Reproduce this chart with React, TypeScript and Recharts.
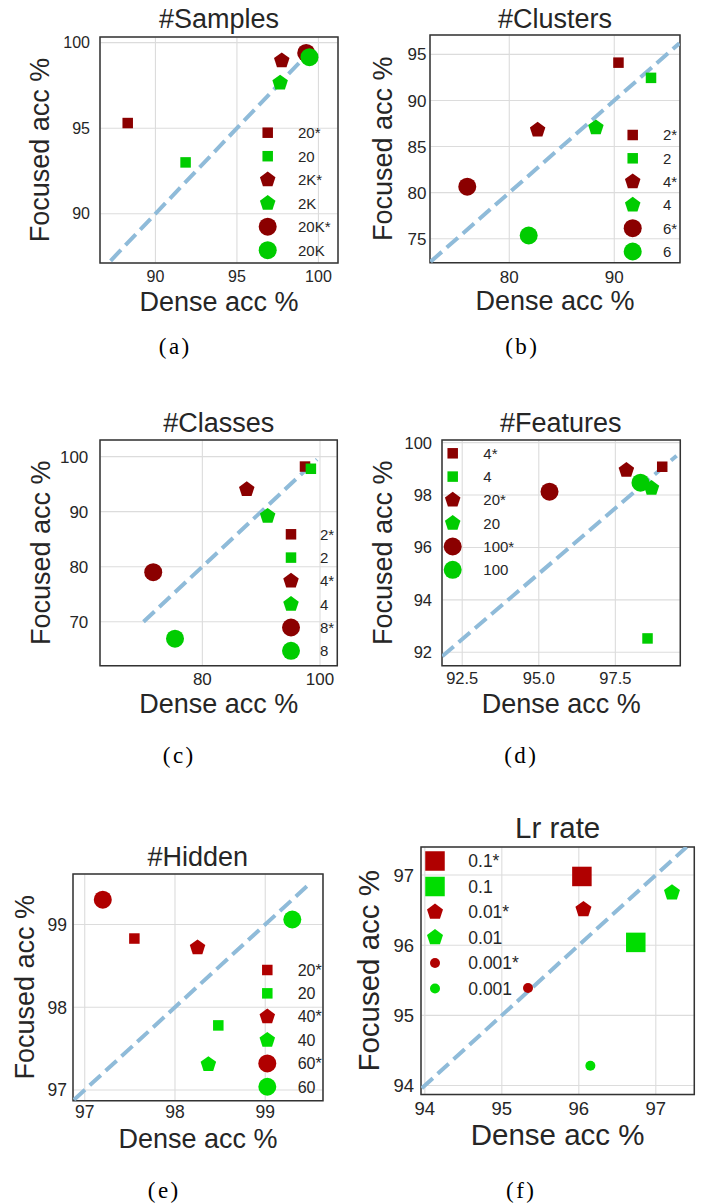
import { ScatterChart, Scatter, XAxis, YAxis, CartesianGrid, ReferenceLine, ReferenceArea } from "recharts"

const FONT = "'Liberation Sans', Arial, Helvetica, sans-serif"
const SERIF = "'Liberation Serif', 'DejaVu Serif', serif"
const INK = "#262626"

// (a) #Samples
const samplesLabels = ["20*", "20", "2K*", "2K", "20K*", "20K"]
const samplesDense = [88.3, 91.85, 97.75, 97.65, 99.25, 99.45]
const samplesFocused = [95.3, 93.0, 98.95, 97.65, 99.4, 99.15]
const samplesXTicks = [90, 95, 100]
const samplesYTicks = [90, 95, 100]
const samplesDiag = [87.25, 99.55]

// (b) #Clusters
const clustersLabels = ["2*", "2", "4*", "4", "6*", "6"]
const clustersDense = [90.4, 93.5, 82.7, 88.25, 76.0, 81.85]
const clustersFocused = [94.1, 92.45, 86.8, 87.05, 80.65, 75.35]
const clustersXTicks = [80, 90]
const clustersYTicks = [75, 80, 85, 90, 95]
const clustersDiag = [72.5, 96.2]

// (c) #Classes
const classesLabels = ["2*", "2", "4*", "4", "8*", "8"]
const classesDense = [97.45, 98.45, 87.55, 91.1, 71.65, 75.35]
const classesFocused = [98.2, 97.8, 94.05, 89.2, 79.0, 66.9]
const classesXTicks = [80, 100]
const classesYTicks = [70, 80, 90, 100]
const classesDiag = [70, 99.5]

// (d) #Features
const featuresLabels = ["4*", "4", "20*", "20", "100*", "100"]
const featuresDense = [99.03, 98.55, 97.86, 98.68, 95.35, 98.32]
const featuresFocused = [99.08, 92.53, 98.95, 98.26, 98.13, 98.47]
const featuresXTicks = [92.5, 95, 97.5]
const featuresYTicks = [92, 94, 96, 98, 100]
const featuresDiag = [91.85, 99.5]

// (e) #Hidden
const hiddenLabels = ["20*", "20", "40*", "40", "60*", "60"]
const hiddenDense = [97.55, 98.48, 98.25, 98.37, 97.2, 99.3]
const hiddenFocused = [98.83, 97.78, 98.72, 97.31, 99.3, 99.06]
const hiddenXTicks = [97, 98, 99]
const hiddenYTicks = [97, 98, 99]
const hiddenDiag = [96.88, 99.5]

// (f) Lr rate
const lrLabels = ["0.1*", "0.1", "0.01*", "0.01", "0.001*", "0.001"]
const lrDense = [96.04, 96.74, 96.06, 97.21, 95.34, 96.15]
const lrFocused = [96.98, 96.04, 96.51, 96.75, 95.39, 94.28]
const lrXTicks = [94, 95, 96, 97]
const lrYTicks = [94, 95, 96, 97]
const lrDiag = [93.96, 97.4]

type Kind = "square" | "pentagon" | "circle"

const STD_KINDS: Kind[] = ["square", "square", "pentagon", "pentagon", "circle", "circle"]

function Marker({ cx, cy, kind, size, color }: { cx: number; cy: number; kind: Kind; size: number; color: string }) {
  if (kind === "square") {
    return <rect x={cx - size / 2} y={cy - size / 2} width={size} height={size} fill={color} />
  }
  if (kind === "circle") {
    return <circle cx={cx} cy={cy} r={size / 2} fill={color} />
  }
  const r = size / 1.902
  const pts = [0, 1, 2, 3, 4]
    .map((k) => {
      const a = ((-90 + k * 72) * Math.PI) / 180
      return `${cx + r * Math.cos(a)},${cy + r * Math.sin(a)}`
    })
    .join(" ")
  return <polygon points={pts} fill={color} />
}

interface PanelCfg {
  title: string
  caption: string
  captionPos: [number, number]
  titleBaseline: number
  frame: [number, number, number, number]
  labels: string[]
  dense: number[]
  focused: number[]
  xTicks: number[]
  yTicks: number[]
  diag: number[]
  xDomain: [number, number]
  yDomain: [number, number]
  xFmt?: (v: number) => string
  tickFont: number
  labelFont: number
  xGap: number
  yGap: number
  yLabelX: number
  xLabelGap: number
  sizes: number[]
  red: string
  green: string
  legend: { markerX: number; textX: number; top: number; step: number; font: number }
}

const sizesStd = [10.5, 10.5, 15.5, 15.5, 18, 18]

const panels: PanelCfg[] = [
  {
    title: "#Samples", caption: "(a)", captionPos: [174, 354], titleBaseline: 28.3,
    frame: [100, 37, 338, 263],
    labels: samplesLabels, dense: samplesDense, focused: samplesFocused,
    xTicks: samplesXTicks, yTicks: samplesYTicks, diag: samplesDiag,
    xDomain: [86.6, 101.2], yDomain: [87.12, 100.33],
    tickFont: 16, labelFont: 27, xGap: 7.7, yGap: 10, yLabelX: 39.7, xLabelGap: 47.5,
    sizes: sizesStd, red: "#8b0000", green: "#00cc00",
    legend: { markerX: 267.7, textX: 298, top: 132.7, step: 23.5, font: 15 },
  },
  {
    title: "#Clusters", caption: "(b)", captionPos: [521, 354], titleBaseline: 28.3,
    frame: [430, 35, 680, 262.7],
    labels: clustersLabels, dense: clustersDense, focused: clustersFocused,
    xTicks: clustersXTicks, yTicks: clustersYTicks, diag: clustersDiag,
    xDomain: [72.45, 96.26], yDomain: [72.4, 97.1],
    tickFont: 17, labelFont: 27, xGap: 8, yGap: 3.5, yLabelX: 382, xLabelGap: 47.5,
    sizes: sizesStd, red: "#8b0000", green: "#00cc00",
    legend: { markerX: 632.7, textX: 663, top: 135, step: 23.3, font: 15 },
  },
  {
    title: "#Classes", caption: "(c)", captionPos: [178, 762.7], titleBaseline: 432.3,
    frame: [100, 440, 337.3, 665.7],
    labels: classesLabels, dense: classesDense, focused: classesFocused,
    xTicks: classesXTicks, yTicks: classesYTicks, diag: classesDiag,
    xDomain: [62.6, 102.94], yDomain: [62.0, 103.03],
    tickFont: 17, labelFont: 27, xGap: 7.7, yGap: 11.7, yLabelX: 40.3, xLabelGap: 47.6,
    sizes: sizesStd, red: "#8b0000", green: "#00cc00",
    legend: { markerX: 291, textX: 320, top: 534.3, step: 23.3, font: 15 },
  },
  {
    title: "#Features", caption: "(d)", captionPos: [520, 763], titleBaseline: 432.3,
    frame: [441.7, 440, 680, 665.7],
    labels: featuresLabels, dense: featuresDense, focused: featuresFocused,
    xTicks: featuresXTicks, yTicks: featuresYTicks, diag: featuresDiag,
    xDomain: [91.84, 99.62], yDomain: [91.49, 100.1], xFmt: (v) => v.toFixed(1),
    tickFont: 16.5, labelFont: 27, xGap: 6.6, yGap: 10, yLabelX: 382.2, xLabelGap: 47.6,
    sizes: sizesStd, red: "#8b0000", green: "#00cc00",
    legend: { markerX: 452.7, textX: 483.3, top: 453.3, step: 23.3, font: 15 },
  },
  {
    title: "#Hidden", caption: "(e)", captionPos: [163, 1198], titleBaseline: 865.7,
    frame: [72.7, 874, 322.7, 1100.7],
    labels: hiddenLabels, dense: hiddenDense, focused: hiddenFocused,
    xTicks: hiddenXTicks, yTicks: hiddenYTicks, diag: hiddenDiag,
    xDomain: [96.87, 99.64], yDomain: [96.87, 99.61],
    tickFont: 17.5, labelFont: 27, xGap: 5, yGap: 6, yLabelX: 24.5, xLabelGap: 47,
    sizes: sizesStd, red: "#b00000", green: "#00dd00",
    legend: { markerX: 267.3, textX: 297.7, top: 970, step: 23.35, font: 16 },
  },
  {
    title: "Lr rate", caption: "(f)", captionPos: [520, 1198], titleBaseline: 838.3,
    frame: [421, 846.7, 694.3, 1094.3],
    labels: lrLabels, dense: lrDense, focused: lrFocused,
    xTicks: lrXTicks, yTicks: lrYTicks, diag: lrDiag,
    xDomain: [93.95, 97.5], yDomain: [93.87, 97.4],
    tickFont: 18.5, labelFont: 29.5, xGap: 7.4, yGap: 7, yLabelX: 368.3, xLabelGap: 50.7,
    sizes: [19.5, 19.5, 16, 16, 10, 10], red: "#b00000", green: "#00dd00",
    legend: { markerX: 435, textX: 468.3, top: 861, step: 25.5, font: 17.5 },
  },
]

const YW = 80
const XH = 72
const T = 12
const R = 12

function Panel({ p }: { p: PanelCfg }) {
  const [fl, ft, fr, fb] = p.frame
  const fw = fr - fl
  const fh = fb - ft
  const left = fl - YW
  const top = ft - T
  const color = (i: number) => (i % 2 === 0 ? p.red : p.green)
  const data = p.labels.map((name, i) => ({ name, x: p.dense[i], y: p.focused[i] }))

  const xTick = (props: any) => (
    <text
      x={props.x}
      y={props.y}
      dy="0.71em"
      textAnchor="middle"
      fontFamily={FONT}
      fontSize={p.tickFont}
      fill={INK}
    >
      {p.xFmt ? p.xFmt(props.payload.value) : props.payload.value}
    </text>
  )
  const yTick = (props: any) => (
    <text
      x={props.x}
      y={props.y}
      dy="0.36em"
      textAnchor="end"
      fontFamily={FONT}
      fontSize={p.tickFont}
      fill={INK}
    >
      {props.payload.value}
    </text>
  )

  return (
    <>
      <div style={{ position: "absolute", left, top }}>
        <ScatterChart
          width={fw + YW + R}
          height={fh + T + XH}
          margin={{ top: T, right: R, bottom: 0, left: 0 }}
          style={{ fontFamily: FONT }}
        >
          <CartesianGrid stroke="#dcdcdc" strokeWidth={1.1} />
          <XAxis
            type="number"
            dataKey="x"
            domain={p.xDomain}
            ticks={p.xTicks}
            allowDataOverflow
            height={XH}
            tickSize={0}
            tickMargin={p.xGap}
            axisLine={false}
            tickLine={false}
            tick={xTick}
            label={{
              value: "Dense acc %",
              position: "insideBottom",
              offset: XH - p.xLabelGap,
              fontSize: p.labelFont,
              fill: INK,
            }}
          />
          <YAxis
            type="number"
            dataKey="y"
            domain={p.yDomain}
            ticks={p.yTicks}
            allowDataOverflow
            width={YW}
            tickSize={0}
            tickMargin={p.yGap}
            axisLine={false}
            tickLine={false}
            tick={yTick}
            label={{
              value: "Focused acc %",
              angle: -90,
              position: "insideLeft",
              offset: p.yLabelX - left,
              fontSize: p.labelFont,
              fill: INK,
              style: { textAnchor: "middle" },
            }}
          />
          <ReferenceArea
            x1={p.xDomain[0]}
            x2={p.xDomain[1]}
            y1={p.yDomain[0]}
            y2={p.yDomain[1]}
            fill="none"
            fillOpacity={0}
            stroke="#333333"
            strokeWidth={1.5}
            ifOverflow="visible"
          />
          <ReferenceLine
            segment={[
              { x: p.diag[0], y: p.diag[0] },
              { x: p.diag[1], y: p.diag[1] },
            ]}
            stroke="#8fbbd9"
            strokeWidth={4}
            strokeDasharray="15 6.5"
            ifOverflow="hidden"
          />
          {data.map((d, i) => (
            <Scatter
              key={d.name}
              name={d.name}
              data={[d]}
              isAnimationActive={false}
              shape={(props: any) => (
                <Marker cx={props.cx} cy={props.cy} kind={STD_KINDS[i]} size={p.sizes[i]} color={color(i)} />
              )}
            />
          ))}
        </ScatterChart>
      </div>
      <svg
        width={703}
        height={1204}
        style={{ position: "absolute", left: 0, top: 0, pointerEvents: "none" }}
      >
        <text
          x={(fl + fr) / 2}
          y={p.titleBaseline}
          textAnchor="middle"
          fontFamily={FONT}
          fontSize={p.labelFont}
          fill={INK}
        >
          {p.title}
        </text>
        {p.labels.map((name, i) => {
          const cy = p.legend.top + i * p.legend.step
          return (
            <g key={name}>
              <Marker cx={p.legend.markerX} cy={cy} kind={STD_KINDS[i]} size={p.sizes[i]} color={color(i)} />
              <text
                x={p.legend.textX}
                y={cy + p.legend.font * 0.36}
                fontFamily={FONT}
                fontSize={p.legend.font}
                fill={INK}
              >
                {name}
              </text>
            </g>
          )
        })}
        <text
          x={p.captionPos[0] + 1.2}
          y={p.captionPos[1]}
          textAnchor="middle"
          fontFamily={SERIF}
          fontSize={23}
          letterSpacing={2.4}
          fill="#000"
        >
          {p.caption}
        </text>
      </svg>
    </>
  )
}

export default function App() {
  return (
    <div
      style={{
        position: "absolute",
        left: 0,
        top: 0,
        width: 703,
        height: 1204,
        background: "#fff",
        fontFamily: FONT,
      }}
    >
      {panels.map((p) => (
        <Panel key={p.title} p={p} />
      ))}
    </div>
  )
}
